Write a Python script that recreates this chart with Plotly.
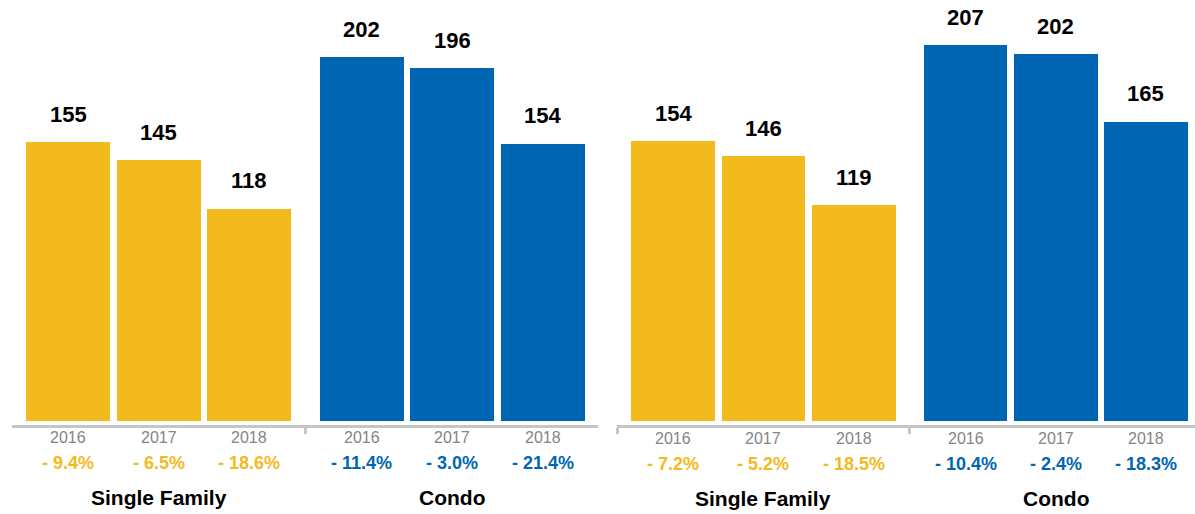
import plotly.graph_objects as go

# ---- data ----
years = ["2016", "2017", "2018"]
categories = ["Single Family", "Condo"]

left_single_family = [155, 145, 118]
left_condo = [202, 196, 154]
left_sf_change = [-9.4, -6.5, -18.6]
left_condo_change = [-11.4, -3.0, -21.4]

right_single_family = [154, 146, 119]
right_condo = [207, 202, 165]
right_sf_change = [-7.2, -5.2, -18.5]
right_condo_change = [-10.4, -2.4, -18.3]

# ---- style ----
YELLOW = "#F3BA1E"
BLUE = "#0066B3"
GRAY_AXIS = "#c6c6c6"
GRAY_TEXT = "#858585"
FONT = "Liberation Sans, Arial, Helvetica, sans-serif"

W, H = 1195, 514
BAR_WIDTH = 0.93
GROUP_GAP = 0.24          # extra space between the two groups (in bar pitches)
sf_x = [0, 1, 2]
condo_x = [3 + GROUP_GAP + i for i in range(3)]


def fmt_change(v):
    return f"- {abs(v):.1f}%" if v < 0 else f"+ {v:.1f}%"


def px_x(p):
    return p / W


def px_y(p):
    return (H - p) / H


fig = go.Figure()

panels = [
    dict(xa="x", ya="y", sf=left_single_family, condo=left_condo,
         sf_chg=left_sf_change, condo_chg=left_condo_change,
         year_y=437, pct_y=463, cat_y=497),
    dict(xa="x2", ya="y2", sf=right_single_family, condo=right_condo,
         sf_chg=right_sf_change, condo_chg=right_condo_change,
         year_y=438, pct_y=464, cat_y=498),
]

annotations = []
for p in panels:
    for xs, vals, chg, color in [(sf_x, p["sf"], p["sf_chg"], YELLOW),
                                 (condo_x, p["condo"], p["condo_chg"], BLUE)]:
        fig.add_trace(go.Bar(
            x=xs, y=vals, width=BAR_WIDTH, marker=dict(color=color, line=dict(width=0)),
            xaxis=p["xa"], yaxis=p["ya"], showlegend=False, hoverinfo="skip",
        ))
        for x, v, c, yr in zip(xs, vals, chg, years):
            # value above each bar
            annotations.append(dict(
                x=x, y=v, xref=p["xa"], yref=p["ya"], yshift=28,
                text=f"<b>{v}</b>", showarrow=False, yanchor="middle",
                font=dict(family=FONT, size=22, color="#000000"),
            ))
            # year under the axis
            annotations.append(dict(
                x=x, y=px_y(p["year_y"]), xref=p["xa"], yref="paper",
                text=yr, showarrow=False, yanchor="middle",
                font=dict(family=FONT, size=16, color=GRAY_TEXT),
            ))
            # year-over-year change
            annotations.append(dict(
                x=x, y=px_y(p["pct_y"]), xref=p["xa"], yref="paper",
                text=f"<b>{fmt_change(c)}</b>", showarrow=False, yanchor="middle",
                font=dict(family=FONT, size=18, color=color),
            ))
    # group titles
    for xs, name in [(sf_x, categories[0]), (condo_x, categories[1])]:
        annotations.append(dict(
            x=xs[1], y=px_y(p["cat_y"]), xref=p["xa"], yref="paper",
            text=f"<b>{name}</b>", showarrow=False, yanchor="middle",
            font=dict(family=FONT, size=21, color="#000000"),
        ))

tick_positions = [-0.62, (sf_x[-1] + condo_x[0]) / 2, condo_x[-1] + 0.61]

axis_common = dict(
    showline=True, linecolor=GRAY_AXIS, linewidth=3,
    ticks="outside", tickvals=tick_positions, ticklen=6, tickwidth=3,
    tickcolor=GRAY_AXIS, showticklabels=False, showgrid=False,
    zeroline=False, fixedrange=True,
)

# pixel layout: bars stand on y=421, axis line just below
BASE = 421
LINE = 424.5
y_dom = [px_y(LINE), 1]
left_scale, right_scale = 1.80, 1.815

fig.update_layout(
    width=W, height=H,
    margin=dict(l=0, r=0, t=0, b=0),
    paper_bgcolor="white", plot_bgcolor="white",
    bargap=0,
    xaxis=dict(domain=[px_x(12), px_x(598)],
               range=[-0.619, -0.619 + 586 / 90.6], anchor="y", **axis_common),
    xaxis2=dict(domain=[px_x(617), px_x(1195)],
                range=[-0.624, -0.624 + 578 / 90.2], anchor="y2", **axis_common),
    yaxis=dict(domain=y_dom, range=[-(LINE - BASE) / left_scale, BASE / left_scale],
               visible=False, fixedrange=True, anchor="x"),
    yaxis2=dict(domain=y_dom, range=[-(LINE - BASE) / right_scale, BASE / right_scale],
                visible=False, fixedrange=True, anchor="x2"),
    annotations=annotations,
)

fig.write_html("out.html")
